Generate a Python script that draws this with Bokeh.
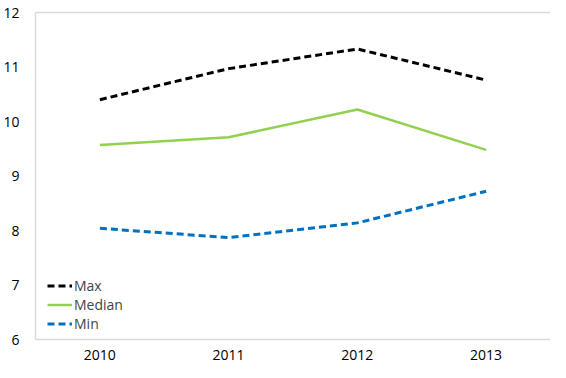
from bokeh.plotting import figure
from bokeh.models import FactorRange, Range1d, LinearAxis, SingleIntervalTicker, Legend, LegendItem
from bokeh.embed import file_html
from bokeh.resources import INLINE

years = ["2010", "2011", "2012", "2013"]
max_vals = [10.40, 10.97, 11.33, 10.76]
median_vals = [9.57, 9.71, 10.22, 9.48]
min_vals = [8.04, 7.87, 8.14, 8.72]

p = figure(width=550, height=362, x_range=FactorRange(*years, range_padding=0),
           y_range=Range1d(6, 12), output_backend="svg", toolbar_location=None,
           min_border_top=12, min_border_left=30, min_border_right=0, min_border_bottom=18)
p.outline_line_color = None
p.xgrid.grid_line_color = None
p.ygrid.grid_line_color = None
p.background_fill_color = "white"

for ax in (p.xaxis[0], p.yaxis[0]):
    ax.axis_line_color = "#d9d9d9"
    ax.axis_line_width = 1.5
    ax.major_tick_line_color = None
    ax.minor_tick_line_color = None
    ax.major_label_text_font = "Open Sans"
    ax.major_label_text_font_size = "14px"
    ax.major_label_text_color = "#000000"
p.yaxis[0].ticker = SingleIntervalTicker(interval=1)
p.yaxis[0].major_label_standoff = 10
p.xaxis[0].major_label_standoff = 4

top = LinearAxis(axis_line_color="#d9d9d9", axis_line_width=1.5, major_tick_line_color=None,
                 minor_tick_line_color=None, major_label_text_font_size="0px")
top.ticker = []
p.add_layout(top, "above")

r1 = p.line(years, max_vals, line_color="black", line_width=3, line_dash="7 4")
r2 = p.line(years, median_vals, line_color="#92D050", line_width=2.5)
r3 = p.line(years, min_vals, line_color="#0070C0", line_width=3, line_dash="7 4")

legend = Legend(items=[LegendItem(label="Max", renderers=[r1]),
                       LegendItem(label="Median", renderers=[r2]),
                       LegendItem(label="Min", renderers=[r3])],
                location=(12, 6), background_fill_alpha=0, border_line_color=None,
                label_text_font="Open Sans", label_text_font_size="14px",
                glyph_width=25, spacing=0, padding=4, label_standoff=2,
                label_height=19, glyph_height=19)
p.add_layout(legend, "center")

open("out.html", "w").write(file_html(p, INLINE))
